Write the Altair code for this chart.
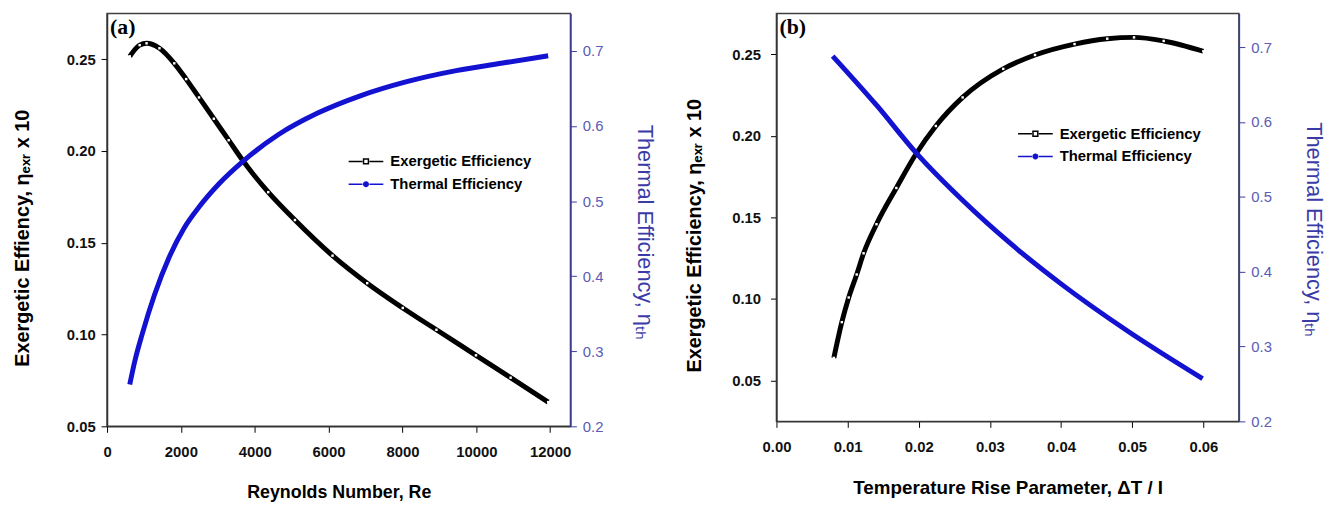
import altair as alt
import pandas as pd

FONT = "Liberation Sans"
BLUE = "#1212d0"
AXIS_BLUE = "#3b3ba8"
LABEL_BLUE = "#5c5cb4"

# ---------------- Panel (a): Reynolds number ----------------
re_ex = [616, 884, 1071, 1420, 1821, 2143, 2491, 2893, 3295, 3697, 4366, 5089,
         6107, 7045, 8009, 8920, 9991, 10929, 11946]
ex_a = [0.2516, 0.2577, 0.2587, 0.2560, 0.2478, 0.2392, 0.2292, 0.2176, 0.2059,
        0.1943, 0.1776, 0.1624, 0.1430, 0.1280, 0.1145, 0.1026, 0.0887, 0.0765, 0.0632]
re_th = [616, 750, 964, 1286, 1688, 2089, 2491, 3027, 3697, 4634, 5705, 6857,
         8116, 9455, 10795, 11946]
th_a = [0.2558, 0.2863, 0.3248, 0.3753, 0.4258, 0.4643, 0.4922, 0.5228, 0.5536,
        0.5883, 0.6172, 0.6402, 0.6591, 0.6738, 0.6845, 0.6935]

# ---------------- Panel (b): temperature rise parameter ----------------
dt_ex = [0.00807, 0.00919, 0.01016, 0.01128, 0.01225, 0.01406, 0.01685, 0.01963,
         0.02241, 0.02617, 0.03188, 0.03634, 0.04190, 0.04650, 0.05026, 0.05443, 0.06000]
ex_b = [0.0639, 0.0858, 0.1009, 0.1150, 0.1280, 0.1458, 0.1680, 0.1890, 0.2060,
        0.2235, 0.2410, 0.2495, 0.2562, 0.2595, 0.2603, 0.2581, 0.2518]
dt_th = [0.0079, 0.0141, 0.0196, 0.0262, 0.0326, 0.0401, 0.0493, 0.0599]
th_b = [0.688, 0.622, 0.559, 0.495, 0.440, 0.383, 0.321, 0.257]

series_names = ["Exergetic Efficiency", "Thermal Efficiency"]
re_ticks = [0, 2000, 4000, 6000, 8000, 10000, 12000]
dt_ticks = [0.00, 0.01, 0.02, 0.03, 0.04, 0.05, 0.06]
ex_ticks = [0.05, 0.10, 0.15, 0.20, 0.25]
th_ticks = [0.2, 0.3, 0.4, 0.5, 0.6, 0.7]

SQ_PATH = "M-1,0H-0.2M0.2,0H1M-0.14,-0.14H0.14V0.14H-0.14Z"
CIRC_PATH = "M-1,0H-0.2M0.2,0H1M0.13,0A0.13,0.13 0 1,1 -0.13,0A0.13,0.13 0 1,1 0.13,0Z"


def panel(xs_ex, ys_ex, xs_th, ys_th, tag, xtitle, xtitle_size, xdomain, xticks, xfmt,
          ltitle, ldomain, left_lab_pad, left_title_pad, rdomain, legx, legy, w, h):
    ex_df = pd.DataFrame({"x": xs_ex, "y": ys_ex})
    th_df = pd.DataFrame({"x": xs_th, "y": ys_th})
    xscale = alt.Scale(domain=xdomain, nice=False, zero=False)
    lscale = alt.Scale(domain=ldomain, nice=False, zero=False)
    rscale = alt.Scale(domain=rdomain, nice=False, zero=False)

    x_axis = alt.Axis(values=xticks, format=xfmt, title=xtitle, grid=False,
                      labelFont=FONT, labelFontSize=15, labelFontWeight="bold",
                      labelColor="#111111", titleFont=FONT, titleFontSize=xtitle_size,
                      titleFontWeight="bold", titleColor="black", tickSize=6,
                      tickColor="black", domainColor="#333333", domainWidth=1.5,
                      labelPadding=12, titlePadding=25, labelFlush=False)
    l_axis = alt.Axis(values=ex_ticks, format=".2f", title=ltitle, grid=False,
                      labelFont=FONT, labelFontSize=15, labelFontWeight="bold",
                      labelColor="#111111", titleFont=FONT, titleFontSize=20,
                      titleFontWeight="bold", titleColor="black", tickSize=6,
                      tickColor="black", domainColor="#333333", domainWidth=1.5,
                      labelPadding=left_lab_pad, titlePadding=left_title_pad,
                      titleY=h / 2 + 18)
    r_axis = alt.Axis(orient="right", values=th_ticks, format=".1f",
                      title="Thermal Efficiency, ηₜₕ", grid=False,
                      labelFont=FONT, labelFontSize=15, labelFontWeight="normal",
                      labelColor=LABEL_BLUE, titleFont=FONT, titleFontSize=22,
                      titleFontWeight="normal", titleColor=AXIS_BLUE, tickSize=6,
                      tickColor=AXIS_BLUE, domainColor=AXIS_BLUE, domainWidth=1.5,
                      labelPadding=6, titlePadding=30, titleY=h / 2 + 12)

    ex_line = alt.Chart(ex_df).mark_line(color="black", strokeWidth=5, interpolate="monotone").encode(
        x=alt.X("x:Q", scale=xscale, axis=x_axis),
        y=alt.Y("y:Q", scale=lscale, axis=l_axis),
    )
    ex_pts = alt.Chart(ex_df).mark_point(shape="square", filled=True, color="white",
                                         size=6, opacity=1).encode(
        x=alt.X("x:Q", scale=xscale, axis=x_axis),
        y=alt.Y("y:Q", scale=lscale, axis=l_axis),
    )
    th_line = alt.Chart(th_df).mark_line(color=BLUE, strokeWidth=5, interpolate="monotone").encode(
        x=alt.X("x:Q", scale=xscale, axis=x_axis),
        y=alt.Y("y:Q", scale=rscale, axis=r_axis),
    )

    leg = alt.Legend(orient="none", legendX=legx, legendY=legy, title=None,
                     labelFont=FONT, labelFontSize=15, labelFontWeight="bold",
                     labelColor="black", symbolSize=1225, symbolStrokeWidth=1.5,
                     clipHeight=17, rowPadding=6, labelOffset=6, padding=0)
    leg_df = pd.DataFrame({"series": series_names})
    legend_layer = alt.Chart(leg_df).transform_filter("false").mark_point(
        filled=True, size=1225, strokeWidth=1.5, opacity=1).encode(
        shape=alt.Shape("series:N", scale=alt.Scale(domain=series_names, range=[SQ_PATH, CIRC_PATH]), legend=leg),
        fill=alt.Fill("series:N", scale=alt.Scale(domain=series_names, range=["white", BLUE]), legend=leg),
        stroke=alt.Stroke("series:N", scale=alt.Scale(domain=series_names, range=["black", BLUE]), legend=leg),
    )

    tag_layer = alt.Chart(pd.DataFrame({"t": [tag]})).mark_text(
        align="left", baseline="top", font="Liberation Serif", fontSize=22,
        fontWeight="bold", color="black").encode(
        x=alt.value(3), y=alt.value(4), text="t:N")

    left = alt.layer(ex_line, ex_pts)
    return alt.layer(left, th_line, legend_layer, tag_layer).resolve_scale(
        y="independent").properties(width=w, height=h)


pa = panel(re_ex, ex_a, re_th, th_a, "(a)", "Reynolds Number, Re", 18,
           [0, 12550], re_ticks, "d", "Exergetic Effiency, ηₑₓᵣ x 10",
           [0.05, 0.275], 6, 34, [0.2, 0.75], 243, 141, 468, 417)
pb = panel(dt_ex, ex_b, dt_th, th_b, "(b)", "Temperature Rise Parameter, ΔT / I", 19,
           [0.0, 0.065], dt_ticks, ".2f", "Exergetic Efficiency, ηₑₓᵣ x 10",
           [0.025, 0.275], 10, 27, [0.2, 0.745], 243, 113, 467, 412)

chart = alt.hconcat(pa, pb, spacing=28).resolve_legend(
    shape="independent", fill="independent", stroke="independent"
).resolve_scale(
    shape="independent", fill="independent", stroke="independent"
).configure(
    padding={"left": 4, "top": 2, "right": 5, "bottom": 0}, font=FONT
).configure_view(stroke="#404040", strokeWidth=1.5)

chart.save("out.html", embed_options={"renderer": "svg", "actions": False})
